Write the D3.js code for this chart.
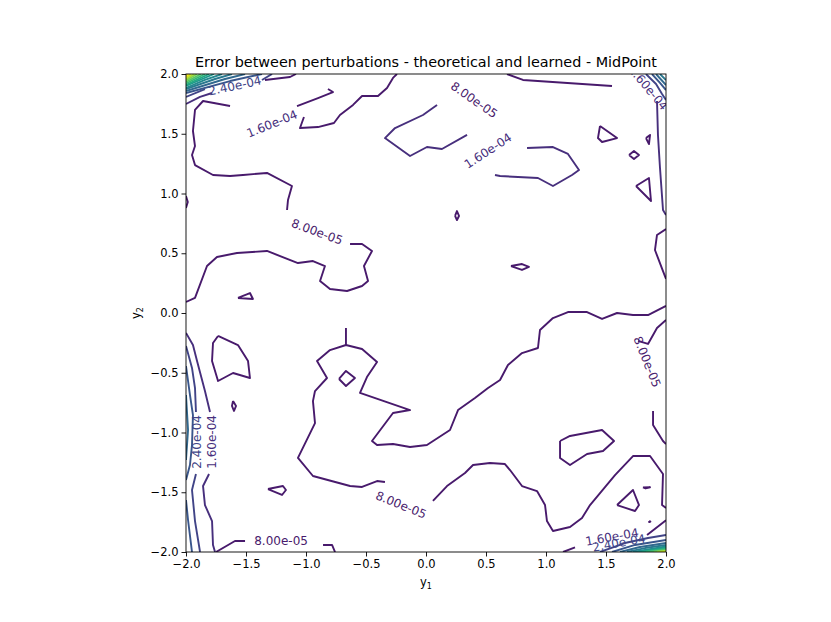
<!DOCTYPE html>
<html>
<head>
<meta charset="utf-8">
<script src="https://cdn.jsdelivr.net/npm/d3@7"></script>
<style>
  body { margin: 0; background: #fff; }
  text { font-family: "DejaVu Sans", sans-serif; }
</style>
</head>
<body>
<div id="chart"></div>
<script>
// ---- data ----
const title = "Error between perturbations - theoretical and learned - MidPoint";
const xTicks = [-2, -1.5, -1, -0.5, 0, 0.5, 1, 1.5, 2];
const yTicks = [-2, -1.5, -1, -0.5, 0, 0.5, 1, 1.5, 2];

// contour levels (step 8e-5); colour = viridis(level / max)
const levels = [0.00008, 0.00016, 0.00024, 0.00032, 0.0004, 0.00048, 0.00056,
  0.00064, 0.00072, 0.0008, 0.00088, 0.00096, 0.00104, 0.00112, 0.0012];

// each entry: [level index, [[y1, y2], ...]]
const lowLines = [
  [0, [[-2.0,0.092],[-1.925,0.126],[-1.825,0.393],[-1.742,0.469],[-1.575,0.502],[-1.325,0.519],[-1.067,0.418],[-0.942,0.435],[-0.842,0.393],[-0.883,0.268],[-0.8,0.201],[-0.658,0.184],[-0.533,0.226],[-0.483,0.268],[-0.517,0.393],[-0.45,0.519],[-0.533,0.577],[-0.633,0.577]]],
  [0, [[-1.158,0.862],[-1.15,0.946],[-1.117,1.063],[-1.325,1.172],[-1.525,1.155],[-1.633,1.146],[-1.775,1.155],[-1.925,1.238],[-1.95,1.322],[-1.925,1.397],[-1.942,1.523],[-1.925,1.699],[-1.858,1.774],[-1.633,1.732]]],
  [0, [[2.0,0.059],[1.85,-0.017],[1.725,-0.017],[1.592,0.0],[1.467,-0.05],[1.342,0.008],[1.183,0.008],[1.058,-0.042],[0.95,-0.142],[0.933,-0.293],[0.8,-0.335],[0.683,-0.435],[0.617,-0.561],[0.517,-0.628],[0.408,-0.711],[0.267,-0.812],[0.2,-0.979],[0.008,-1.105],[-0.133,-1.121],[-0.275,-1.096],[-0.408,-1.105],[-0.45,-1.071],[-0.275,-0.837],[-0.133,-0.812],[-0.55,-0.669],[-0.492,-0.536],[-0.408,-0.41],[-0.533,-0.301],[-0.667,-0.268],[-0.8,-0.31],[-0.908,-0.402],[-0.825,-0.544],[-0.925,-0.653],[-0.942,-0.737],[-0.925,-0.921],[-1.067,-1.213],[-0.942,-1.364],[-0.633,-1.448],[-0.533,-1.456],[-0.408,-1.406],[-0.342,-1.414]]],
  [0, [[0.058,-1.573],[0.175,-1.448],[0.325,-1.339],[0.392,-1.272],[0.533,-1.255],[0.658,-1.264],[0.7,-1.314],[0.8,-1.448],[0.925,-1.49],[0.992,-1.607],[1.008,-1.741],[1.058,-1.824],[1.2,-1.791],[1.3,-1.716],[1.367,-1.607],[1.575,-1.356],[1.725,-1.197],[1.867,-1.197],[1.975,-1.347],[1.967,-1.607],[2.0,-1.632]]],
  [0, [[-0.667,-0.126],[-0.667,-0.268]]],
  [0, [[-0.725,-0.552],[-0.667,-0.485],[-0.592,-0.544],[-0.667,-0.611],[-0.725,-0.552]]],
  [0, [[-1.733,-0.192],[-1.567,-0.268],[-1.483,-0.402],[-1.467,-0.544],[-1.608,-0.502],[-1.733,-0.569],[-1.783,-0.402],[-1.775,-0.251],[-1.733,-0.192]]],
  [0, [[-1.567,0.126],[-1.467,0.167],[-1.442,0.117],[-1.567,0.126]]],
  [0, [[-1.608,-0.736],[-1.617,-0.778],[-1.6,-0.82],[-1.583,-0.778],[-1.608,-0.736]]],
  [0, [[-1.317,-1.473],[-1.192,-1.448],[-1.167,-1.481],[-1.2,-1.523],[-1.317,-1.473]]],
  [0, [[1.117,-1.071],[1.2,-1.029],[1.467,-0.979],[1.567,-1.071],[1.475,-1.155],[1.342,-1.18],[1.2,-1.272],[1.117,-1.213],[1.117,-1.071]]],
  [0, [[1.892,-0.82],[1.892,-0.937],[1.975,-1.071],[2.0,-1.096]]],
  [0, [[1.592,-1.607],[1.725,-1.481],[1.775,-1.607],[1.742,-1.657],[1.592,-1.607]]],
  [0, [[1.808,-1.46],[1.867,-1.458],[1.83,-1.468],[1.808,-1.46]]],
  [0, [[1.86,-1.74],[1.87,-1.745],[1.86,-1.75],[1.86,-1.74]]],
  [0, [[1.842,-1.858],[1.992,-1.741],[2.0,-1.735]]],
  [0, [[2.0,-0.059],[1.925,-0.126],[1.85,-0.259],[1.767,-0.234]]],
  [0, [[2.0,0.703],[1.925,0.653],[1.908,0.527],[1.975,0.351],[2.0,0.285]]],
  [0, [[1.45,1.565],[1.592,1.464],[1.467,1.431],[1.433,1.464],[1.45,1.565]]],
  [0, [[1.833,1.464],[1.867,1.49],[1.858,1.414],[1.833,1.464]]],
  [0, [[1.692,1.322],[1.733,1.356],[1.775,1.322],[1.733,1.289],[1.692,1.322]]],
  [0, [[1.75,1.063],[1.858,1.13],[1.875,0.937],[1.75,1.063]]],
  [0, [[0.242,0.812],[0.258,0.853],[0.275,0.812],[0.258,0.778],[0.242,0.812]]],
  [0, [[0.708,0.393],[0.8,0.41],[0.858,0.385],[0.8,0.36],[0.708,0.393]]],
  [0, [[-1.75,-2.0],[-1.592,-1.908],[-1.508,-1.908]]],
  [0, [[-0.858,-1.941],[-0.783,-1.941],[-0.758,-2.0]]],
  [0, [[1.142,-2.0],[1.242,-1.962]]],
  [0, [[0.675,2.0],[0.808,1.95],[1.55,1.9]]],
  [0, [[-1.017,1.64],[-1.05,1.548],[-0.9,1.556],[-0.767,1.59],[-0.717,1.657],[-0.608,1.741],[-0.533,1.816],[-0.4,1.816],[-0.325,1.883],[-0.275,1.967],[-0.242,2.0]]],
  [0, [[-1.075,1.732],[-0.9,1.799],[-0.775,1.849],[-0.817,1.874]]],
  [0, [[-1.342,1.95],[-1.133,1.975],[-1.083,2.0]]],
  [0, [[-2.0,0.979],[-1.985,0.929],[-2.0,0.879]]],
  [1, [[0.092,1.741],[0.033,1.699],[-0.025,1.657],[-0.258,1.548],[-0.342,1.464],[-0.133,1.314],[0.008,1.389],[0.133,1.372],[0.342,1.49]]],
  [1, [[0.842,1.381],[1.058,1.389],[1.183,1.331],[1.275,1.197],[1.217,1.155],[1.058,1.063],[0.933,1.13],[0.617,1.146],[0.575,1.155]]],
  [1, [[1.925,1.774],[1.933,1.49],[1.95,1.213],[1.975,0.862],[2.0,0.82]]]
];

const cornerTopLeft = [
  [1, [[-2.0,1.749],[-1.883,1.808],[-1.783,1.841]]],
  [2, [[-2.0,1.808],[-1.842,1.874]]],
  [2, [[-1.367,1.95],[-1.283,2.0]]],
  [3, [[-2.0,1.841],[-1.633,1.941],[-1.367,2.0]]],
  [4, [[-2.0,1.858],[-1.675,1.958],[-1.508,2.0]]],
  [5, [[-2.0,1.874],[-1.758,1.958],[-1.617,2.0]]],
  [6, [[-2.0,1.883],[-1.842,1.95],[-1.7,2.0]]],
  [7, [[-2.0,1.9],[-1.767,2.0]]],
  [8, [[-2.0,1.908],[-1.808,2.0]]],
  [9, [[-2.0,1.921],[-1.842,2.0]]],
  [10, [[-2.0,1.933],[-1.875,2.0]]],
  [11, [[-2.0,1.946],[-1.908,2.0]]],
  [12, [[-2.0,1.958],[-1.933,2.0]]],
  [13, [[-2.0,1.971],[-1.958,2.0]]],
  [14, [[-2.0,1.983],[-1.979,2.0]]]
];

const cornerTopRight = [
  [2, [[1.833,2.0],[1.917,1.916],[1.967,1.833],[2.0,1.782]]],
  [3, [[1.883,2.0],[1.95,1.925],[2.0,1.866]]],
  [4, [[1.917,2.0],[2.0,1.908]]],
  [5, [[1.95,2.0],[2.0,1.95]]]
];

const cornerBottomLeft = [
  [1, [[-2.0,-0.167],[-1.942,-0.268],[-1.908,-0.402],[-1.842,-0.653],[-1.8,-0.828]]],
  [1, [[-1.808,-1.347],[-1.858,-1.448],[-1.842,-1.607],[-1.783,-1.741],[-1.775,-1.941],[-1.758,-2.0]]],
  [2, [[-2.0,-0.276],[-1.95,-0.46],[-1.925,-0.628],[-1.917,-0.828]]],
  [2, [[-1.917,-1.347],[-1.95,-1.481],[-1.925,-1.741],[-1.883,-2.0]]],
  [3, [[-2.0,-0.444],[-1.967,-0.686],[-1.942,-0.854],[-1.95,-1.105],[-1.967,-1.272],[-2.0,-1.397]]],
  [3, [[-2.0,-1.565],[-1.983,-1.732],[-1.95,-2.0]]],
  [4, [[-2.0,-0.686],[-1.983,-0.979],[-2.0,-1.23]]]
];

const cornerBottomRight = [
  [2, [[1.45,-2.0],[1.658,-1.925],[1.85,-1.883],[2.0,-1.858]]],
  [3, [[1.55,-2.0],[1.742,-1.941],[2.0,-1.9]]],
  [4, [[1.617,-2.0],[1.783,-1.958],[2.0,-1.925]]],
  [5, [[1.675,-2.0],[1.825,-1.967],[2.0,-1.941]]],
  [6, [[1.725,-2.0],[2.0,-1.954]]],
  [7, [[1.767,-2.0],[2.0,-1.962]]],
  [8, [[1.8,-2.0],[2.0,-1.971]]],
  [9, [[1.833,-2.0],[2.0,-1.977]]],
  [10, [[1.867,-2.0],[2.0,-1.983]]],
  [11, [[1.9,-2.0],[2.0,-1.989]]],
  [12, [[1.925,-2.0],[2.0,-1.993]]],
  [13, [[1.95,-2.0],[2.0,-1.997]]]
];

// inline contour labels: [text, level index, y1, y2, angle]
const contourLabels = [
  ["2.40e-04", 2, -1.592, 1.9, -12],
  ["1.60e-04", 1, -1.283, 1.582, -22],
  ["8.00e-05", 0, -0.908, 0.678, 20],
  ["8.00e-05", 0, 0.4, 1.782, 35],
  ["1.60e-04", 1, 0.517, 1.356, -33],
  ["1.60e-04", 1, 1.85, 1.883, 50],
  ["8.00e-05", 0, 1.842, -0.41, 68],
  ["2.40e-04", 2, -1.908, -1.079, -90],
  ["1.60e-04", 1, -1.783, -1.079, -90],
  ["8.00e-05", 0, -1.208, -1.908, 0],
  ["8.00e-05", 0, -0.208, -1.607, 22],
  ["1.60e-04", 1, 1.55, -1.875, -10],
  ["2.40e-04", 2, 1.608, -1.925, -10]
];

// ---- chart ----
const width = 831, height = 622;
const plot = { left: 186, top: 74, right: 666, bottom: 552 };

const svg = d3.select("#chart").append("svg")
  .attr("width", width)
  .attr("height", height)
  .attr("viewBox", [0, 0, width, height]);

const x = d3.scaleLinear().domain([-2, 2]).range([plot.left, plot.right]);
const y = d3.scaleLinear().domain([-2, 2]).range([plot.bottom, plot.top]);
const color = d3.scaleSequential(d3.interpolateViridis).domain([0, d3.max(levels)]);

svg.append("clipPath").attr("id", "plot-clip")
  .append("rect")
  .attr("x", plot.left).attr("y", plot.top)
  .attr("width", plot.right - plot.left).attr("height", plot.bottom - plot.top);

const line = d3.line().x(d => x(d[0])).y(d => y(d[1]));

const allLines = [].concat(lowLines, cornerTopLeft, cornerTopRight, cornerBottomLeft, cornerBottomRight);

const g = svg.append("g").attr("clip-path", "url(#plot-clip)");

g.selectAll("path.contour")
  .data(allLines)
  .join("path")
  .attr("class", "contour")
  .attr("d", d => line(d[1]))
  .attr("fill", "none")
  .attr("stroke", d => color(levels[d[0]]))
  .attr("stroke-width", 1.9)
  .attr("stroke-linejoin", "round");

g.selectAll("text.clabel")
  .data(contourLabels)
  .join("text")
  .attr("class", "clabel")
  .attr("transform", d => `translate(${x(d[2])},${y(d[3])}) rotate(${d[4]})`)
  .attr("text-anchor", "middle")
  .attr("dominant-baseline", "central")
  .attr("font-size", 12)
  .attr("fill", d => color(levels[d[1]]))
  .text(d => d[0]);

// axes
const fmt = d3.format(".1f");
const xAxis = svg.append("g")
  .attr("transform", `translate(0,${plot.bottom})`)
  .call(d3.axisBottom(x).tickValues(xTicks).tickFormat(fmt).tickSize(4.5).tickPadding(3));
const yAxis = svg.append("g")
  .attr("transform", `translate(${plot.left},0)`)
  .call(d3.axisLeft(y).tickValues(yTicks).tickFormat(fmt).tickSize(4.5).tickPadding(3));

[xAxis, yAxis].forEach(a => {
  a.select(".domain").remove();
  a.selectAll("text").attr("font-size", 11.5).attr("fill", "#000")
    .attr("font-family", "DejaVu Sans, sans-serif");
  a.selectAll("line").attr("stroke", "#000").attr("stroke-width", 0.9);
});

svg.append("rect")
  .attr("x", plot.left).attr("y", plot.top)
  .attr("width", plot.right - plot.left).attr("height", plot.bottom - plot.top)
  .attr("fill", "none")
  .attr("stroke", "#000")
  .attr("stroke-width", 0.9);

// axis labels
const xl = svg.append("text")
  .attr("x", (plot.left + plot.right) / 2)
  .attr("y", 586)
  .attr("text-anchor", "middle")
  .attr("font-size", 11.5);
xl.append("tspan").text("y");
xl.append("tspan").attr("font-size", 8).attr("dy", 3).text("1");

const yl = svg.append("text")
  .attr("transform", `translate(140,${(plot.top + plot.bottom) / 2}) rotate(-90)`)
  .attr("text-anchor", "middle")
  .attr("font-size", 11.5);
yl.append("tspan").text("y");
yl.append("tspan").attr("font-size", 8).attr("dy", 3).text("2");

svg.append("text")
  .attr("x", (plot.left + plot.right) / 2)
  .attr("y", 67)
  .attr("text-anchor", "middle")
  .attr("font-size", 14.4)
  .text(title);
</script>
</body>
</html>
